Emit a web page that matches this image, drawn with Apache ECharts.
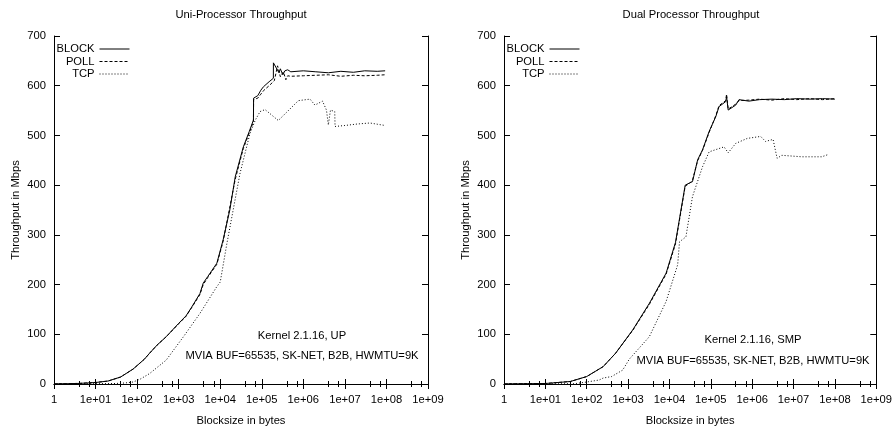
<!DOCTYPE html>
<html><head><meta charset="utf-8">
<script src="https://cdn.jsdelivr.net/npm/echarts@6/dist/echarts.min.js"></script>
<style>html,body{margin:0;padding:0;background:#fff}#c{width:895px;height:436px}</style>
</head><body><div id="c"></div>
<script>
// ---------- data ----------
const xTickLabels = ['1','1e+01','1e+02','1e+03','1e+04','1e+05','1e+06','1e+07','1e+08','1e+09'];
const seriesNames = ['BLOCK','POLL','TCP'];

const upBlockX = [1,2,4,10,20,40,80,150,200,300,500,1000,1500,2000,3250,3900,5000,8300,11750,17000,23000,36000,50000,63000,63500,80000,95000,110000,150000,190000,190500,260000,280000,320000,360000,420000,500000,1e6,2e6,4e6,8e6,1.6e7,3e7,6e7,9.3e7];
const upBlockY = [0.3,0.6,1.2,3,6,14,30,50,62,78,95,122,137,153,182,203,216,243,290,350,417,477,508,531,575,580,591,598,608,615,646,626,634,622,630,632,628,630,628,626,629,627,630,629,630];

const upPollX = [1,2,4,10,20,40,80,150,200,300,500,1000,1500,2000,3250,3900,5000,8300,11750,23000,36000,50000,63000,63500,80000,95000,110000,150000,200000,240000,280000,330000,380000,420000,500000,1e6,2e6,4e6,8e6,1.6e7,3e7,6e7,9.3e7];
const upPollY = [0.3,0.6,1.2,3,6,14,30,50,62,78,95,121,136,152,180,200,214,241,287,412,474,505,528,572,575,583,590,600,610,640,618,628,612,620,619,620,621,622,619,621,620,621,622];

const upTcpX = [1,10,30,50,80,120,200,500,1300,3250,8300,10000,14500,30000,52000,70000,91000,120000,250000,760000,1.45e6,1.9e6,2.9e6,3.6e6,4e6,4.5e6,5.7e6,5.8e6,1e7,2e7,4e7,9.3e7];
const upTcpY = [0,0.5,1,2,4,10,21,48,95,142,196,205,283,424,504,531,548,552,530,570,573,561,569,551,521,551,548,518,520,523,525,520];

const smpBlockX = [1,10,40,100,250,500,1300,3250,8300,14000,24000,30000,36000,48000,63000,91000,132000,158000,229000,240000,263000,400000,480000,830000,1.5e6,3e6,6e6,1.2e7,2.5e7,5e7,1e8];
const smpBlockY = [0.2,1,5,15,35,62,109,162,223,285,400,404,407,451,471,508,538,558,568,578,551,561,572,569,572,573,572,574,573,574,573];

const smpPollX = smpBlockX;
const smpPollY = [0.2,1,5,15,35,62,108,160,221,282,398,403,410,449,470,506,540,560,570,583,553,563,570,571,573,571,574,572,574,572,574];

const smpTcpX = [1,50,100,200,250,400,740,1070,3250,8300,15800,17500,25000,36000,63000,91000,209000,263000,400000,760000,1.6e6,2.1e6,3.2e6,4e6,5.2e6,1.6e7,4.8e7,7.1e7];
const smpTcpY = [0,0.5,4,8,12,15,28,50,95,166,240,286,296,377,437,467,477,465,484,494,498,488,492,454,460,457,457,462];

const panelTitles = ['Uni-Processor Throughput','Dual Processor Throughput'];
const notes = [['Kernel 2.1.16, UP','MVIA BUF=65535, SK-NET, B2B, HWMTU=9K'],
               ['Kernel 2.1.16, SMP','MVIA BUF=65535, SK-NET, B2B, HWMTU=9K']];

// ---------- chart ----------
const FONT = "'Liberation Sans',Arial,sans-serif";
const FS = 11.2;
const zip = (xs, ys) => xs.map((x, i) => [x, ys[i]]);
const dashes = {BLOCK: 'solid', POLL: [3, 2], TCP: [1, 2]};

const grids = [
  {left: 54, top: 36, width: 374, height: 348},
  {left: 504, top: 36, width: 374, height: 348}
];

function xAxisFor(g, pos) {
  return {
    type: 'log', logBase: 10, min: 1, max: 1e9, gridIndex: g, position: pos,
    axisLine: {show: true, lineStyle: {color: '#000', width: 1}},
    axisTick: {show: true, inside: true, length: 5, lineStyle: {color: '#000'}},
    minorTick: {show: true, splitNumber: 3, length: 3, lineStyle: {color: '#000'}},
    splitLine: {show: false},
    axisLabel: pos === 'bottom' ? {
      show: true, margin: 10, color: '#000', fontFamily: FONT, fontSize: FS,
      formatter: v => xTickLabels[Math.round(Math.log10(v))]
    } : {show: false},
    name: pos === 'bottom' ? 'Blocksize in bytes' : '',
    nameLocation: 'middle', nameGap: 31,
    nameTextStyle: {color: '#000', fontFamily: FONT, fontSize: FS}
  };
}
function yAxisFor(g, pos) {
  return {
    type: 'value', min: 0, max: 700, interval: 100, gridIndex: g, position: pos,
    axisLine: {show: true, lineStyle: {color: '#000', width: 1}},
    axisTick: {show: true, inside: true, length: 6, lineStyle: {color: '#000'}},
    splitLine: {show: false},
    axisLabel: pos === 'left' ? {show: true, margin: 8, color: '#000', fontFamily: FONT, fontSize: FS} : {show: false},
    name: pos === 'left' ? 'Throughput in Mbps' : '',
    nameLocation: 'middle', nameGap: 33, nameRotate: 90,
    nameTextStyle: {color: '#000', fontFamily: FONT, fontSize: FS}
  };
}

const xAxes = [xAxisFor(0,'bottom'), xAxisFor(0,'top'), xAxisFor(1,'bottom'), xAxisFor(1,'top')];
const yAxes = [yAxisFor(0,'left'), yAxisFor(0,'right'), yAxisFor(1,'left'), yAxisFor(1,'right')];

const panelData = [
  {BLOCK: zip(upBlockX, upBlockY), POLL: zip(upPollX, upPollY), TCP: zip(upTcpX, upTcpY)},
  {BLOCK: zip(smpBlockX, smpBlockY), POLL: zip(smpPollX, smpPollY), TCP: zip(smpTcpX, smpTcpY)}
];

const series = [];
panelData.forEach((pd, p) => {
  seriesNames.forEach(n => {
    series.push({
      name: n, type: 'line', xAxisIndex: p * 2, yAxisIndex: p * 2,
      data: pd[n], symbol: 'none', showSymbol: false, smooth: false,
      lineStyle: {color: '#000', width: 1, type: dashes[n]},
      itemStyle: {color: '#000'},
      emphasis: {disabled: true}
    });
  });
});

const legendRows = [43.5, 56, 68.5];
const legends = [];
[130, 580].forEach(rx => {
  seriesNames.forEach((n, i) => {
    legends.push({
      data: [n], orient: 'horizontal', align: 'right', right: 895 - rx, top: legendRows[i],
      padding: 0, itemWidth: 30, itemHeight: 12, selectedMode: false,
      itemStyle: {opacity: 0, borderWidth: 0},
      lineStyle: {width: 1},
      textStyle: {color: '#000', fontFamily: FONT, fontSize: FS}
    });
  });
});

const graphics = [];
panelTitles.forEach((t, p) => {
  graphics.push({type: 'text', x: grids[p].left + 187, y: 15,
    style: {text: t, fill: '#000', font: FS + 'px ' + FONT, textAlign: 'center', textVerticalAlign: 'middle'}});
});
const noteX = [302, 753];
const noteY = [[336, 356], [340, 361]];
notes.forEach((lines, p) => {
  lines.forEach((t, i) => {
    graphics.push({type: 'text', x: noteX[p], y: noteY[p][i],
      style: {text: t, fill: '#000', font: FS + 'px ' + FONT, textAlign: 'center', textVerticalAlign: 'middle'}});
  });
});

const chart = echarts.init(document.getElementById('c'), null, {renderer: 'canvas'});
chart.setOption({
  animation: false,
  backgroundColor: '#fff',
  grid: grids,
  xAxis: xAxes,
  yAxis: yAxes,
  legend: legends,
  series: series,
  graphic: graphics
});
</script>
</body></html>
